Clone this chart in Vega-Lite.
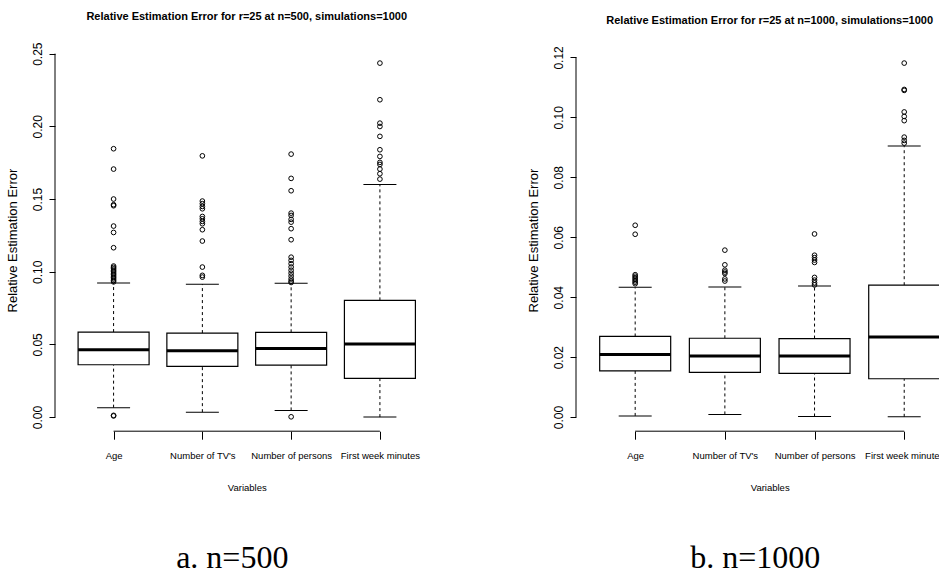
{
  "$schema": "https://vega.github.io/schema/vega-lite/v6.json",
  "padding": {"left": 6, "top": 11, "right": 0, "bottom": 0},
  "background": "white",
  "config": {"view": {"stroke": null}, "font": "Liberation Sans"},
  "spacing": 88,
  "datasets": {
    "box500": [
      {"variable": "Age", "lower": 0.0065, "q1": 0.0360, "median": 0.0463, "q3": 0.0585, "upper": 0.0922},
      {"variable": "Number of TV's", "lower": 0.0034, "q1": 0.0349, "median": 0.0457, "q3": 0.0578, "upper": 0.0914},
      {"variable": "Number of persons", "lower": 0.0046, "q1": 0.0358, "median": 0.0472, "q3": 0.0583, "upper": 0.0920},
      {"variable": "First week minutes", "lower": 0.0000, "q1": 0.0266, "median": 0.0502, "q3": 0.0803, "upper": 0.1600}
    ],
    "out500": [
      {"variable": "Age", "value": 0.1846}, {"variable": "Age", "value": 0.1706}, {"variable": "Age", "value": 0.1500},
      {"variable": "Age", "value": 0.1461}, {"variable": "Age", "value": 0.1454}, {"variable": "Age", "value": 0.1314},
      {"variable": "Age", "value": 0.1270}, {"variable": "Age", "value": 0.1165}, {"variable": "Age", "value": 0.1039},
      {"variable": "Age", "value": 0.1030}, {"variable": "Age", "value": 0.1020}, {"variable": "Age", "value": 0.1010},
      {"variable": "Age", "value": 0.1000}, {"variable": "Age", "value": 0.0990}, {"variable": "Age", "value": 0.0980},
      {"variable": "Age", "value": 0.0970}, {"variable": "Age", "value": 0.0960}, {"variable": "Age", "value": 0.0950},
      {"variable": "Age", "value": 0.0940}, {"variable": "Age", "value": 0.0930}, {"variable": "Age", "value": 0.0012},
      {"variable": "Age", "value": 0.0008},
      {"variable": "Number of TV's", "value": 0.1797}, {"variable": "Number of TV's", "value": 0.1486},
      {"variable": "Number of TV's", "value": 0.1468}, {"variable": "Number of TV's", "value": 0.1449},
      {"variable": "Number of TV's", "value": 0.1433}, {"variable": "Number of TV's", "value": 0.1380},
      {"variable": "Number of TV's", "value": 0.1364}, {"variable": "Number of TV's", "value": 0.1346},
      {"variable": "Number of TV's", "value": 0.1330}, {"variable": "Number of TV's", "value": 0.1289},
      {"variable": "Number of TV's", "value": 0.1211}, {"variable": "Number of TV's", "value": 0.1032},
      {"variable": "Number of TV's", "value": 0.0975}, {"variable": "Number of TV's", "value": 0.0963},
      {"variable": "Number of persons", "value": 0.1809}, {"variable": "Number of persons", "value": 0.1642},
      {"variable": "Number of persons", "value": 0.1557}, {"variable": "Number of persons", "value": 0.1403},
      {"variable": "Number of persons", "value": 0.1387}, {"variable": "Number of persons", "value": 0.1360},
      {"variable": "Number of persons", "value": 0.1341}, {"variable": "Number of persons", "value": 0.1296},
      {"variable": "Number of persons", "value": 0.1220}, {"variable": "Number of persons", "value": 0.1100},
      {"variable": "Number of persons", "value": 0.1078}, {"variable": "Number of persons", "value": 0.1055},
      {"variable": "Number of persons", "value": 0.1032}, {"variable": "Number of persons", "value": 0.1010},
      {"variable": "Number of persons", "value": 0.0990}, {"variable": "Number of persons", "value": 0.0970},
      {"variable": "Number of persons", "value": 0.0950}, {"variable": "Number of persons", "value": 0.0935},
      {"variable": "Number of persons", "value": 0.0926}, {"variable": "Number of persons", "value": 0.0002},
      {"variable": "First week minutes", "value": 0.2435}, {"variable": "First week minutes", "value": 0.2183},
      {"variable": "First week minutes", "value": 0.2022}, {"variable": "First week minutes", "value": 0.1999},
      {"variable": "First week minutes", "value": 0.1931}, {"variable": "First week minutes", "value": 0.1839},
      {"variable": "First week minutes", "value": 0.1793}, {"variable": "First week minutes", "value": 0.1752},
      {"variable": "First week minutes", "value": 0.1738}, {"variable": "First week minutes", "value": 0.1706},
      {"variable": "First week minutes", "value": 0.1674}, {"variable": "First week minutes", "value": 0.1637}
    ],
    "box1000": [
      {"variable": "Age", "lower": 0.0004, "q1": 0.0154, "median": 0.0209, "q3": 0.0269, "upper": 0.0433},
      {"variable": "Number of TV's", "lower": 0.0009, "q1": 0.0149, "median": 0.0204, "q3": 0.0263, "upper": 0.0434},
      {"variable": "Number of persons", "lower": 0.0002, "q1": 0.0146, "median": 0.0204, "q3": 0.0262, "upper": 0.0437},
      {"variable": "First week minutes", "lower": 0.0001, "q1": 0.0128, "median": 0.0267, "q3": 0.0440, "upper": 0.0904}
    ],
    "out1000": [
      {"variable": "Age", "value": 0.0640}, {"variable": "Age", "value": 0.0610}, {"variable": "Age", "value": 0.0475},
      {"variable": "Age", "value": 0.0470}, {"variable": "Age", "value": 0.0465}, {"variable": "Age", "value": 0.0460},
      {"variable": "Age", "value": 0.0455}, {"variable": "Age", "value": 0.0450}, {"variable": "Age", "value": 0.0445},
      {"variable": "Number of TV's", "value": 0.0557}, {"variable": "Number of TV's", "value": 0.0508},
      {"variable": "Number of TV's", "value": 0.0490}, {"variable": "Number of TV's", "value": 0.0484},
      {"variable": "Number of TV's", "value": 0.0479}, {"variable": "Number of TV's", "value": 0.0461},
      {"variable": "Number of TV's", "value": 0.0454},
      {"variable": "Number of persons", "value": 0.0611}, {"variable": "Number of persons", "value": 0.0540},
      {"variable": "Number of persons", "value": 0.0532}, {"variable": "Number of persons", "value": 0.0524},
      {"variable": "Number of persons", "value": 0.0516}, {"variable": "Number of persons", "value": 0.0466},
      {"variable": "Number of persons", "value": 0.0457}, {"variable": "Number of persons", "value": 0.0448},
      {"variable": "Number of persons", "value": 0.0441},
      {"variable": "First week minutes", "value": 0.1181}, {"variable": "First week minutes", "value": 0.1093},
      {"variable": "First week minutes", "value": 0.1090}, {"variable": "First week minutes", "value": 0.1018},
      {"variable": "First week minutes", "value": 0.1003}, {"variable": "First week minutes", "value": 0.0989},
      {"variable": "First week minutes", "value": 0.0934}, {"variable": "First week minutes", "value": 0.0923},
      {"variable": "First week minutes", "value": 0.0914}
    ]
  },
  "hconcat": [
    {
      "title": {"text": "a.  n=500", "orient": "bottom", "font": "Liberation Serif", "fontSize": 32, "fontWeight": "normal", "color": "black", "offset": 51, "dx": 10, "anchor": "middle"},
      "vconcat": [
        {
          "width": 383.5,
          "height": 382.2,
          "title": {"text": "Relative Estimation Error for r=25 at n=500, simulations=1000", "font": "Liberation Sans", "fontSize": 11, "fontWeight": "bold", "color": "black", "offset": 19.5, "anchor": "middle"},
          "encoding": {
            "x": {"field": "variable", "type": "nominal", "sort": null,
              "scale": {"type": "point", "domain": ["Age", "Number of TV's", "Number of persons", "First week minutes"], "padding": 0.66},
              "axis": {"title": "Variables", "labelAngle": 0, "domain": false, "grid": false, "tickSize": 8, "tickColor": "black", "labelFont": "Liberation Sans", "labelFontSize": 9.5, "labelColor": "black", "labelPadding": 11, "titleFont": "Liberation Sans", "titleFontSize": 9.5, "titleFontWeight": "normal", "titleColor": "black", "titlePadding": 22.5}}
          },
          "layer": [
            {"data": {"name": "box500"}, "mark": {"type": "rule", "strokeDash": [3, 3], "color": "black", "strokeWidth": 1},
             "encoding": {"y": {"field": "lower", "type": "quantitative", "title": "Relative Estimation Error", "scale": {"domain": [-0.0097, 0.2532], "nice": false, "zero": false},
               "axis": {"values": [0, 0.05, 0.1, 0.15, 0.2, 0.25], "format": ".2f", "labelAngle": 270, "labelAlign": "center", "labelBaseline": "bottom", "labelPadding": 5, "tickSize": 6, "tickColor": "black", "domain": false, "grid": false, "labelFont": "Liberation Sans", "labelFontSize": 12, "labelColor": "black", "titleFont": "Liberation Sans", "titleFontSize": 13, "titleFontWeight": "normal", "titleColor": "black", "titlePadding": 12}},
               "y2": {"field": "q1"}}},
            {"data": {"name": "box500"}, "mark": {"type": "rule", "strokeDash": [3, 3], "color": "black", "strokeWidth": 1},
             "encoding": {"y": {"field": "q3", "type": "quantitative", "title": "Relative Estimation Error", "scale": {"domain": [-0.0097, 0.2532], "nice": false, "zero": false}}, "y2": {"field": "upper"}}},
            {"data": {"name": "box500"}, "mark": {"type": "tick", "size": 33, "thickness": 1, "color": "black", "opacity": 1},
             "encoding": {"y": {"field": "lower", "type": "quantitative", "title": "Relative Estimation Error", "scale": {"domain": [-0.0097, 0.2532], "nice": false, "zero": false}}}},
            {"data": {"name": "box500"}, "mark": {"type": "tick", "size": 33, "thickness": 1, "color": "black", "opacity": 1},
             "encoding": {"y": {"field": "upper", "type": "quantitative", "title": "Relative Estimation Error", "scale": {"domain": [-0.0097, 0.2532], "nice": false, "zero": false}}}},
            {"data": {"name": "box500"}, "mark": {"type": "bar", "width": 71, "fill": "white", "stroke": "black", "strokeWidth": 1.2, "opacity": 1},
             "encoding": {"y": {"field": "q1", "type": "quantitative", "title": "Relative Estimation Error", "scale": {"domain": [-0.0097, 0.2532], "nice": false, "zero": false}}, "y2": {"field": "q3"}}},
            {"data": {"name": "box500"}, "mark": {"type": "tick", "size": 71, "thickness": 3, "color": "black", "opacity": 1},
             "encoding": {"y": {"field": "median", "type": "quantitative", "title": "Relative Estimation Error", "scale": {"domain": [-0.0097, 0.2532], "nice": false, "zero": false}}}},
            {"data": {"name": "out500"}, "mark": {"type": "point", "shape": "circle", "filled": false, "size": 22, "stroke": "black", "strokeWidth": 1, "opacity": 1},
             "encoding": {"y": {"field": "value", "type": "quantitative", "title": "Relative Estimation Error", "scale": {"domain": [-0.0097, 0.2532], "nice": false, "zero": false}}}},
            {"data": {"values": [{}]}, "mark": {"type": "rule", "color": "black", "strokeWidth": 1},
             "encoding": {"x": {"datum": "Age", "type": "nominal"}, "x2": {"datum": "First week minutes"}, "y": {"datum": -0.0097, "type": "quantitative"}}},
            {"data": {"values": [{}]}, "mark": {"type": "rule", "color": "black", "strokeWidth": 1},
             "encoding": {"x": {"value": 0}, "y": {"datum": 0, "type": "quantitative"}, "y2": {"datum": 0.25}}}
          ]
        }
      ]
    },
    {
      "title": {"text": "b.  n=1000", "orient": "bottom", "font": "Liberation Serif", "fontSize": 32, "fontWeight": "normal", "color": "black", "offset": 51, "dx": 10, "anchor": "middle"},
      "vconcat": [
        {
          "width": 387.4,
          "height": 382.2,
          "title": {"text": "Relative Estimation Error for r=25 at n=1000, simulations=1000", "font": "Liberation Sans", "fontSize": 11, "fontWeight": "bold", "color": "black", "offset": 19.5, "anchor": "middle"},
          "encoding": {
            "x": {"field": "variable", "type": "nominal", "sort": null,
              "scale": {"type": "point", "domain": ["Age", "Number of TV's", "Number of persons", "First week minutes"], "padding": 0.66},
              "axis": {"title": "Variables", "labelAngle": 0, "domain": false, "grid": false, "tickSize": 8, "tickColor": "black", "labelFont": "Liberation Sans", "labelFontSize": 9.5, "labelColor": "black", "labelPadding": 11, "titleFont": "Liberation Sans", "titleFontSize": 9.5, "titleFontWeight": "normal", "titleColor": "black", "titlePadding": 22.5}}
          },
          "layer": [
            {"data": {"name": "box1000"}, "mark": {"type": "rule", "strokeDash": [3, 3], "color": "black", "strokeWidth": 1},
             "encoding": {"y": {"field": "lower", "type": "quantitative", "title": "Relative Estimation Error", "scale": {"domain": [-0.0047, 0.1228], "nice": false, "zero": false},
               "axis": {"values": [0, 0.02, 0.04, 0.06, 0.08, 0.1, 0.12], "format": ".2f", "labelAngle": 270, "labelAlign": "center", "labelBaseline": "bottom", "labelPadding": 5, "tickSize": 6, "tickColor": "black", "domain": false, "grid": false, "labelFont": "Liberation Sans", "labelFontSize": 12, "labelColor": "black", "titleFont": "Liberation Sans", "titleFontSize": 13, "titleFontWeight": "normal", "titleColor": "black", "titlePadding": 12}},
               "y2": {"field": "q1"}}},
            {"data": {"name": "box1000"}, "mark": {"type": "rule", "strokeDash": [3, 3], "color": "black", "strokeWidth": 1},
             "encoding": {"y": {"field": "q3", "type": "quantitative", "title": "Relative Estimation Error", "scale": {"domain": [-0.0047, 0.1228], "nice": false, "zero": false}}, "y2": {"field": "upper"}}},
            {"data": {"name": "box1000"}, "mark": {"type": "tick", "size": 33, "thickness": 1, "color": "black", "opacity": 1},
             "encoding": {"y": {"field": "lower", "type": "quantitative", "title": "Relative Estimation Error", "scale": {"domain": [-0.0047, 0.1228], "nice": false, "zero": false}}}},
            {"data": {"name": "box1000"}, "mark": {"type": "tick", "size": 33, "thickness": 1, "color": "black", "opacity": 1},
             "encoding": {"y": {"field": "upper", "type": "quantitative", "title": "Relative Estimation Error", "scale": {"domain": [-0.0047, 0.1228], "nice": false, "zero": false}}}},
            {"data": {"name": "box1000"}, "mark": {"type": "bar", "width": 71, "fill": "white", "stroke": "black", "strokeWidth": 1.2, "opacity": 1},
             "encoding": {"y": {"field": "q1", "type": "quantitative", "title": "Relative Estimation Error", "scale": {"domain": [-0.0047, 0.1228], "nice": false, "zero": false}}, "y2": {"field": "q3"}}},
            {"data": {"name": "box1000"}, "mark": {"type": "tick", "size": 71, "thickness": 3, "color": "black", "opacity": 1},
             "encoding": {"y": {"field": "median", "type": "quantitative", "title": "Relative Estimation Error", "scale": {"domain": [-0.0047, 0.1228], "nice": false, "zero": false}}}},
            {"data": {"name": "out1000"}, "mark": {"type": "point", "shape": "circle", "filled": false, "size": 22, "stroke": "black", "strokeWidth": 1, "opacity": 1},
             "encoding": {"y": {"field": "value", "type": "quantitative", "title": "Relative Estimation Error", "scale": {"domain": [-0.0047, 0.1228], "nice": false, "zero": false}}}},
            {"data": {"values": [{}]}, "mark": {"type": "rule", "color": "black", "strokeWidth": 1},
             "encoding": {"x": {"datum": "Age", "type": "nominal"}, "x2": {"datum": "First week minutes"}, "y": {"datum": -0.0047, "type": "quantitative"}}},
            {"data": {"values": [{}]}, "mark": {"type": "rule", "color": "black", "strokeWidth": 1},
             "encoding": {"x": {"value": 0}, "y": {"datum": 0, "type": "quantitative"}, "y2": {"datum": 0.12}}}
          ]
        }
      ]
    }
  ]
}
